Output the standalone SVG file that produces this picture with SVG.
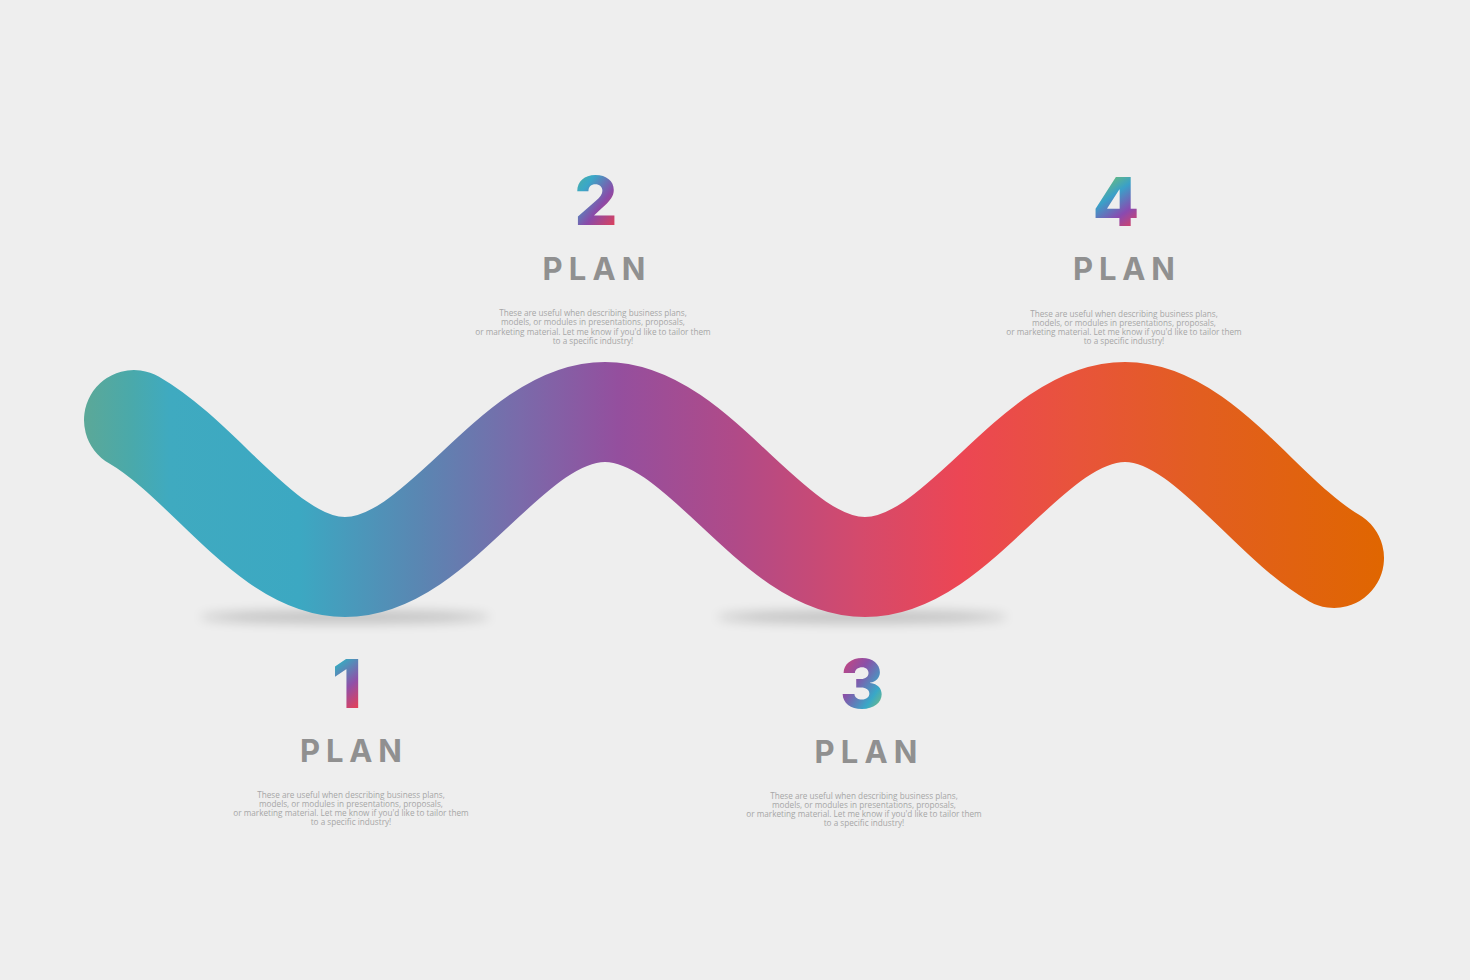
<svg xmlns="http://www.w3.org/2000/svg" width="1470" height="980" viewBox="0 0 1470 980">
<defs>
<style>
.num{font-family:Inter,"Noto Sans","Liberation Sans",sans-serif;font-weight:800;font-size:68px;text-anchor:middle}
.plan{font-family:Inter,"Noto Sans","Liberation Sans",sans-serif;font-weight:700;font-size:31px;fill:#909090;text-anchor:middle}
.desc{font-family:"Open Sans","Noto Sans","Liberation Sans",sans-serif;font-size:8.2px;fill:#a6a6a6;text-anchor:middle}
</style>
<linearGradient id="wave" gradientUnits="userSpaceOnUse" x1="85" y1="0" x2="1385" y2="0">
<stop offset="0" stop-color="#5ba898"/>
<stop offset="0.035" stop-color="#4aa9aa"/>
<stop offset="0.065" stop-color="#3faac0"/>
<stop offset="0.165" stop-color="#3ca8c2"/>
<stop offset="0.258" stop-color="#5a86b2"/>
<stop offset="0.335" stop-color="#7a6aaa"/>
<stop offset="0.41" stop-color="#944f9e"/>
<stop offset="0.5" stop-color="#b04a88"/>
<stop offset="0.596" stop-color="#d44a6c"/>
<stop offset="0.673" stop-color="#ec4654"/>
<stop offset="0.765" stop-color="#e8543a"/>
<stop offset="0.858" stop-color="#e25e20"/>
<stop offset="1" stop-color="#e06600"/>
</linearGradient>
<linearGradient id="g1" x1="0" y1="0" x2="0.3" y2="1">
<stop offset="0" stop-color="#c8d040"/>
<stop offset="0.3" stop-color="#3aa8c0"/>
<stop offset="0.65" stop-color="#9050a8"/>
<stop offset="1" stop-color="#ec3e50"/>
</linearGradient>
<linearGradient id="g2" x1="0.1" y1="0" x2="0.8" y2="1">
<stop offset="0" stop-color="#58b48c"/>
<stop offset="0.3" stop-color="#3aa8c8"/>
<stop offset="0.62" stop-color="#8a4aa8"/>
<stop offset="1" stop-color="#ee3e4a"/>
</linearGradient>
<linearGradient id="g3" x1="0.1" y1="0" x2="0.9" y2="1">
<stop offset="0" stop-color="#e4406a"/>
<stop offset="0.4" stop-color="#8a50a8"/>
<stop offset="0.72" stop-color="#38a8c8"/>
<stop offset="1" stop-color="#9cc850"/>
</linearGradient>
<linearGradient id="g4" x1="0.2" y1="0" x2="0.6" y2="1">
<stop offset="0" stop-color="#ecd030"/>
<stop offset="0.2" stop-color="#70c070"/>
<stop offset="0.45" stop-color="#3aa0c8"/>
<stop offset="0.72" stop-color="#8a4ab0"/>
<stop offset="1" stop-color="#ec4050"/>
</linearGradient>
<filter id="blur" x="-20%" y="-200%" width="140%" height="500%">
<feGaussianBlur stdDeviation="6"/>
</filter>
</defs>
<rect width="1470" height="980" fill="#eeeeee"/>
<g id="connectors">
<ellipse cx="345" cy="617" rx="145" ry="6" fill="#000" opacity="0.2" filter="url(#blur)"/>
<ellipse cx="862" cy="617" rx="145" ry="6" fill="#000" opacity="0.2" filter="url(#blur)"/>
<path id="wave-path" d="M134,420 C206.6,462 268,567 345,567 C439.5,567 510.5,412 605,412 C699.5,412 770.5,567 865,567 C959.5,567 1030.5,412 1125,412 C1202,412 1263.4,517 1334,558" fill="none" stroke="url(#wave)" stroke-width="100" stroke-linecap="round"/>
</g>
<g id="step1">
<text class="num" x="347" y="708" fill="url(#g1)">1</text>
<text class="plan" x="351" y="762" textLength="102" lengthAdjust="spacing">PLAN</text>
<text class="desc" x="351" y="798">These are useful when describing business plans,</text>
<text class="desc" x="351" y="807">models, or modules in presentations, proposals,</text>
<text class="desc" x="351" y="816">or marketing material. Let me know if you'd like to tailor them</text>
<text class="desc" x="351" y="825">to a specific industry!</text>
</g>
<g id="step2">
<text class="num" x="596" y="225" fill="url(#g2)">2</text>
<text class="plan" x="594" y="280" textLength="103" lengthAdjust="spacing">PLAN</text>
<text class="desc" x="593" y="316">These are useful when describing business plans,</text>
<text class="desc" x="593" y="325">models, or modules in presentations, proposals,</text>
<text class="desc" x="593" y="334.5">or marketing material. Let me know if you'd like to tailor them</text>
<text class="desc" x="593" y="344">to a specific industry!</text>
</g>
<g id="step3">
<text class="num" x="862" y="708" fill="url(#g3)">3</text>
<text class="plan" x="866" y="763" textLength="103" lengthAdjust="spacing">PLAN</text>
<text class="desc" x="864" y="799">These are useful when describing business plans,</text>
<text class="desc" x="864" y="808">models, or modules in presentations, proposals,</text>
<text class="desc" x="864" y="817">or marketing material. Let me know if you'd like to tailor them</text>
<text class="desc" x="864" y="826">to a specific industry!</text>
</g>
<g id="step4">
<text class="num" x="1116" y="226" fill="url(#g4)">4</text>
<text class="plan" x="1124" y="280" textLength="102" lengthAdjust="spacing">PLAN</text>
<text class="desc" x="1124" y="317">These are useful when describing business plans,</text>
<text class="desc" x="1124" y="326">models, or modules in presentations, proposals,</text>
<text class="desc" x="1124" y="335">or marketing material. Let me know if you'd like to tailor them</text>
<text class="desc" x="1124" y="344">to a specific industry!</text>
</g>
</svg>
